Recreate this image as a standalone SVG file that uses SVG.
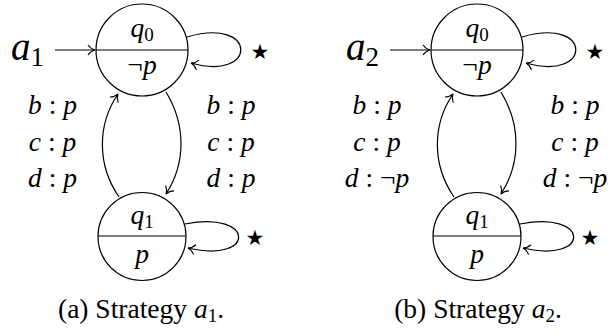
<svg xmlns="http://www.w3.org/2000/svg" width="614" height="334" viewBox="0 0 614 334" font-family="'Liberation Serif', 'DejaVu Serif', serif">
<defs>
<marker id="to" viewBox="-10 -7 12 14" refX="0" refY="0" markerWidth="12" markerHeight="14" orient="auto" markerUnits="userSpaceOnUse">
<path d="M-7,-5 C-5,-2 -2,-0.5 0,0 C-2,0.5 -5,2 -7,5" fill="none" stroke="#000" stroke-width="1.1"/>
</marker>
</defs>
<style>
.st{fill:none;stroke:#000;stroke-width:1.2}
.ed{fill:none;stroke:#000;stroke-width:1.2;marker-end:url(#to)}
.m{font-size:27.5px;text-anchor:middle}
.i{font-style:italic}
.big{font-size:39px}
.star{font-family:'DejaVu Sans',sans-serif;font-size:21px;text-anchor:middle}
.cap{font-size:27.5px;text-anchor:middle}
</style>
<rect width="614" height="334" fill="#fff"/>

<!-- (a) -->
<g id="diagram-a">
<g id="a-init"><text x="11" y="60" class="big"><tspan class="i">a</tspan><tspan font-size="27" dy="6">1</tspan></text></g>
<g id="a-q0">
<circle cx="142" cy="50" r="46" class="st"/>
<line x1="96" y1="50" x2="188" y2="50" class="st"/>
<text x="142" y="37" class="m"><tspan class="i">q</tspan><tspan font-size="19" dy="4">0</tspan></text>
<text x="142" y="74" class="m">¬<tspan class="i">p</tspan></text>
</g>
<g id="a-q1">
<circle cx="142" cy="236.5" r="44" class="st"/>
<line x1="98" y1="236" x2="186" y2="236" class="st"/>
<text x="142" y="224" class="m"><tspan class="i">q</tspan><tspan font-size="19" dy="4">1</tspan></text>
<text x="142" y="263" class="m"><tspan class="i">p</tspan></text>
</g>
<g id="a-connectors">
<line x1="55" y1="50" x2="95" y2="50" class="ed"/>
<path d="M187,37 C258,16 258,82 191,63" class="ed"/>
<path d="M185,224 C256,210 256,264 188,248" class="ed"/>
<path d="M119,197 C97,165 97,125 118,94" class="ed"/>
<path d="M166,92 C186,125 186,163 166,194" class="ed"/>
</g>
<g id="a-labels">
<text x="52.5" y="114" class="m"><tspan class="i">b</tspan> : <tspan class="i">p</tspan></text>
<text x="52.5" y="151" class="m"><tspan class="i">c</tspan> : <tspan class="i">p</tspan></text>
<text x="52.5" y="187" class="m"><tspan class="i">d</tspan> : <tspan class="i">p</tspan></text>
<text x="231" y="114" class="m"><tspan class="i">b</tspan> : <tspan class="i">p</tspan></text>
<text x="231" y="151" class="m"><tspan class="i">c</tspan> : <tspan class="i">p</tspan></text>
<text x="231" y="187" class="m"><tspan class="i">d</tspan> : <tspan class="i">p</tspan></text>
<text x="260" y="59" class="star">★</text>
<text x="255" y="245" class="star">★</text>
</g>
<text x="141" y="318" class="cap">(a) Strategy <tspan class="i">a</tspan><tspan font-size="19" dy="4">1</tspan><tspan dy="-4">.</tspan></text>
</g>

<!-- (b) -->
<g id="diagram-b" transform="translate(335,0)">
<g id="b-init"><text x="11" y="60" class="big"><tspan class="i">a</tspan><tspan font-size="27" dy="6">2</tspan></text></g>
<g id="b-q0">
<circle cx="142" cy="50" r="46" class="st"/>
<line x1="96" y1="50" x2="188" y2="50" class="st"/>
<text x="142" y="37" class="m"><tspan class="i">q</tspan><tspan font-size="19" dy="4">0</tspan></text>
<text x="142" y="74" class="m">¬<tspan class="i">p</tspan></text>
</g>
<g id="b-q1">
<circle cx="142" cy="236.5" r="44" class="st"/>
<line x1="98" y1="236" x2="186" y2="236" class="st"/>
<text x="142" y="224" class="m"><tspan class="i">q</tspan><tspan font-size="19" dy="4">1</tspan></text>
<text x="142" y="263" class="m"><tspan class="i">p</tspan></text>
</g>
<g id="b-connectors">
<line x1="55" y1="50" x2="95" y2="50" class="ed"/>
<path d="M187,37 C258,16 258,82 191,63" class="ed"/>
<path d="M185,224 C256,210 256,264 188,248" class="ed"/>
<path d="M119,197 C97,165 97,125 118,94" class="ed"/>
<path d="M166,92 C186,125 186,163 166,194" class="ed"/>
</g>
<g id="b-labels">
<text x="42" y="114" class="m"><tspan class="i">b</tspan> : <tspan class="i">p</tspan></text>
<text x="42" y="151" class="m"><tspan class="i">c</tspan> : <tspan class="i">p</tspan></text>
<text x="42" y="187" class="m"><tspan class="i">d</tspan> : ¬<tspan class="i">p</tspan></text>
<text x="240" y="114" class="m"><tspan class="i">b</tspan> : <tspan class="i">p</tspan></text>
<text x="240" y="151" class="m"><tspan class="i">c</tspan> : <tspan class="i">p</tspan></text>
<text x="240" y="187" class="m"><tspan class="i">d</tspan> : ¬<tspan class="i">p</tspan></text>
<text x="260" y="59" class="star">★</text>
<text x="255" y="245" class="star">★</text>
</g>
<text x="143" y="318" class="cap">(b) Strategy <tspan class="i">a</tspan><tspan font-size="19" dy="4">2</tspan><tspan dy="-4">.</tspan></text>
</g>
</svg>
